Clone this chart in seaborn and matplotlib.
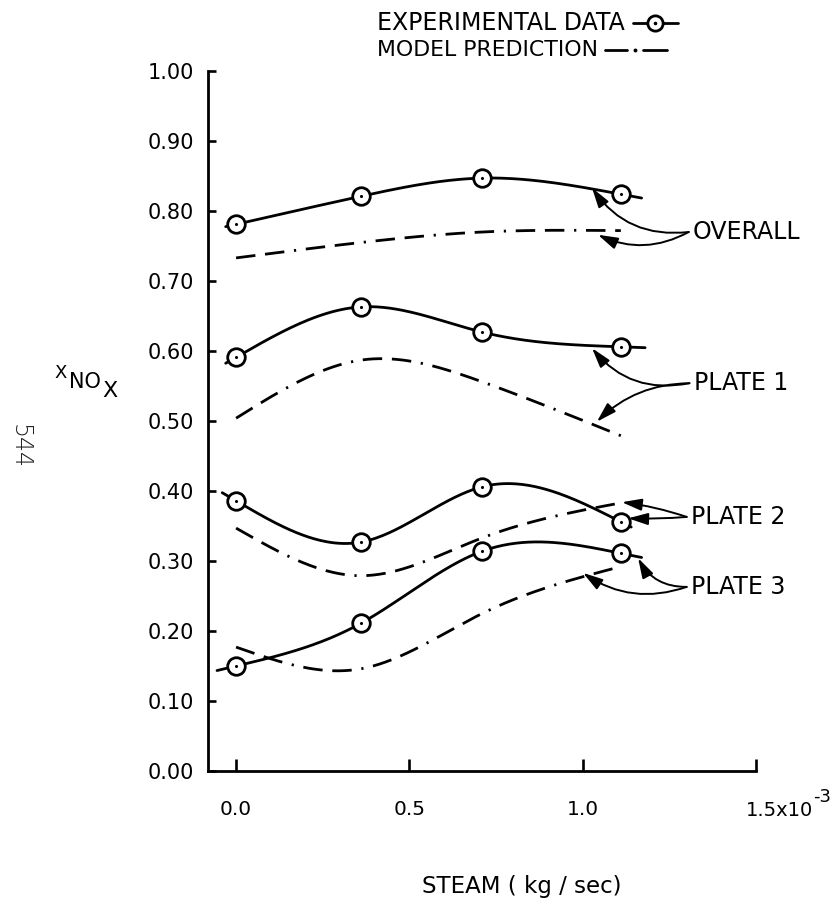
import numpy as np
import matplotlib
matplotlib.use("Agg")
import matplotlib.pyplot as plt
from matplotlib.lines import Line2D
import seaborn as sns

# Steam flow (x 1e-3 kg/sec) at which each series was measured / predicted
steam = [0.0, 0.36, 0.71, 1.11]

# Fractional NOx conversion, experimental
exp_overall = [0.781, 0.821, 0.847, 0.824]
exp_plate1 = [0.591, 0.663, 0.627, 0.606]
exp_plate2 = [0.386, 0.327, 0.406, 0.356]
exp_plate3 = [0.150, 0.211, 0.314, 0.311]

# Fractional NOx conversion, model prediction
mod_overall = [0.733, 0.755, 0.770, 0.772]
mod_plate1 = [0.504, 0.587, 0.556, 0.479]
mod_plate2 = [0.347, 0.279, 0.333, 0.383]
mod_plate3 = [0.177, 0.146, 0.225, 0.292]

# Hand-drawn fits run a little past the first and last measurement
fit_start = [-0.03, -0.03, -0.04, -0.055]
fit_end = [1.17, 1.18, 1.14, 1.17]

series_names = ["OVERALL", "PLATE 1", "PLATE 2", "PLATE 3"]
x_ticks = [0.0, 0.5, 1.0, 1.5]
x_tick_labels = ["0.0", "0.5", "1.0", ""]
y_ticks = [0.0, 0.1, 0.2, 0.3, 0.4, 0.5, 0.6, 0.7, 0.8, 0.9, 1.0]
y_tick_labels = ["0.00", "0.10", "0.20", "0.30", "0.40", "0.50",
                 "0.60", "0.70", "0.80", "0.90", "1.00"]


def natural_spline(x, y, xs):
    """Natural cubic spline through (x, y), evaluated at xs."""
    x = np.asarray(x, float)
    y = np.asarray(y, float)
    xs = np.asarray(xs, float)
    n = len(x)
    h = np.diff(x)
    A = np.zeros((n, n))
    r = np.zeros(n)
    A[0, 0] = A[-1, -1] = 1.0
    for i in range(1, n - 1):
        A[i, i - 1] = h[i - 1]
        A[i, i] = 2 * (h[i - 1] + h[i])
        A[i, i + 1] = h[i]
        r[i] = 3 * ((y[i + 1] - y[i]) / h[i] - (y[i] - y[i - 1]) / h[i - 1])
    c = np.linalg.solve(A, r)
    b = (y[1:] - y[:-1]) / h - h * (2 * c[:-1] + c[1:]) / 3
    d = (c[1:] - c[:-1]) / (3 * h)
    idx = np.clip(np.searchsorted(x, xs) - 1, 0, n - 2)
    t = xs - x[idx]
    return y[idx] + b[idx] * t + c[idx] * t ** 2 + d[idx] * t ** 3


sns.set_theme(style="white")
plt.rcParams["font.family"] = ["DejaVu Sans"]
plt.rcParams["text.color"] = "black"
plt.rcParams["axes.labelcolor"] = "black"
plt.rcParams["xtick.color"] = "black"
plt.rcParams["ytick.color"] = "black"

W, H = 837, 900
fig = plt.figure(figsize=(W / 100, H / 100), dpi=100)
ax = fig.add_axes([208 / W, 1 - 771 / H, (756 - 208) / W, 700 / H])

LW = 2.0
DASH = (7, 3.5, 7, 3.5, 0.8, 3.5)

exp_all = [exp_overall, exp_plate1, exp_plate2, exp_plate3]
mod_all = [mod_overall, mod_plate1, mod_plate2, mod_plate3]

for ys, x0, x1 in zip(exp_all, fit_start, fit_end):
    xs = np.linspace(x0, x1, 200)
    sns.lineplot(x=xs, y=natural_spline(steam, ys, xs), ax=ax,
                 color="black", lw=LW, sort=False, estimator=None,
                 clip_on=False, zorder=2)

for ys in mod_all:
    xs = np.linspace(steam[0], steam[-1], 200)
    sns.lineplot(x=xs, y=natural_spline(steam, ys, xs), ax=ax,
                 color="black", lw=LW, sort=False, estimator=None,
                 clip_on=False, zorder=2)
    ax.lines[-1].set_dashes(DASH)

for ys in exp_all:
    sns.scatterplot(x=steam, y=ys, ax=ax, s=160, marker="o",
                    facecolor="white", edgecolor="black", linewidth=2.0,
                    zorder=4, clip_on=False)
    sns.scatterplot(x=steam, y=ys, ax=ax, s=5, marker="o",
                    color="black", linewidth=0, zorder=5, clip_on=False)

ax.set_xlim(-0.081, 1.5)
ax.set_ylim(0.0, 1.0)
ax.set_xticks(x_ticks)
ax.set_xticklabels(x_tick_labels, fontsize=14.5, color="black")
ax.set_yticks(y_ticks)
ax.set_yticklabels(y_tick_labels, fontsize=15, color="black")
ax.tick_params(axis="y", direction="in", length=6, width=1.9, pad=10,
               left=True, colors="black")
ax.tick_params(axis="x", direction="in", length=9, width=1.9, pad=21,
               bottom=True, colors="black")
for side in ("top", "right"):
    ax.spines[side].set_visible(False)
for side in ("left", "bottom"):
    ax.spines[side].set_color("black")
    ax.spines[side].set_linewidth(2.0)
ax.grid(False)
ax.set_xlabel("")
ax.set_ylabel("")

# last tick label carries the 1e-3 scale factor
ax.annotate("1.5x10", xy=(1.5, 0), xycoords=("data", "axes fraction"),
            xytext=(-10, -39), textcoords="offset pixels",
            ha="left", va="center", fontsize=14, color="black")
ax.annotate("-3", xy=(1.5, 0), xycoords=("data", "axes fraction"),
            xytext=(57, -26), textcoords="offset pixels",
            ha="left", va="center", fontsize=13, color="black")

# curve labels with arrows pointing at the measured and predicted curves
label_pos = [(1.318, 0.770), (1.320, 0.554), (1.312, 0.363), (1.312, 0.263)]
arrow_targets = [
    [((1.027, 0.833), -0.3), ((1.044, 0.766), -0.25)],
    [((1.027, 0.604), -0.3), ((1.041, 0.499), 0.2)],
    [((1.113, 0.384), 0.05), ((1.131, 0.361), -0.03)],
    [((1.160, 0.304), -0.3), ((1.001, 0.283), -0.25)],
]
for name, (lx, ly), targets in zip(series_names, label_pos, arrow_targets):
    ax.text(lx, ly, name, fontsize=17, ha="left", va="center",
            color="black", clip_on=False)
    for (tx, ty), rad in targets:
        ax.annotate("", xy=(tx, ty), xytext=(lx - 0.012, ly),
                    arrowprops=dict(arrowstyle="-|>,head_length=1.0,head_width=0.3",
                                    color="black", lw=1.4, shrinkA=0, shrinkB=0,
                                    connectionstyle=f"arc3,rad={rad}"),
                    annotation_clip=False)

# axis titles
fig.text(522 / W, 1 - 886 / H, "STEAM ( kg / sec)", fontsize=16.5,
         ha="center", va="center", color="black")
fig.text(61 / W, 1 - 373 / H, "X", fontsize=13, ha="center", va="center",
         color="black")
fig.text(85 / W, 1 - 382 / H, "NO", fontsize=15, ha="center", va="center",
         color="black")
fig.text(110 / W, 1 - 391 / H, "X", fontsize=16, ha="center", va="center",
         color="black")
fig.text(20 / W, 1 - 446 / H, "544", fontsize=17, rotation=-90,
         ha="center", va="center", color="#222222", fontweight="light")

# key at the top
fig.text(377 / W, 1 - 23 / H, "EXPERIMENTAL DATA", fontsize=17,
         ha="left", va="center", color="black")
fig.text(377 / W, 1 - 50 / H, "MODEL PREDICTION", fontsize=15.8,
         ha="left", va="center", color="black")
fig.add_artist(Line2D([633 / W, 678 / W], [1 - 23 / H, 1 - 23 / H],
                      transform=fig.transFigure, color="black", lw=2.0))
fig.add_artist(Line2D([655 / W], [1 - 23 / H], transform=fig.transFigure,
                      marker="o", markersize=11, markerfacecolor="white",
                      markeredgecolor="black", markeredgewidth=2.0, lw=0))
fig.add_artist(Line2D([655 / W], [1 - 23 / H], transform=fig.transFigure,
                      marker="o", markersize=1.6, color="black", lw=0))
fig.add_artist(Line2D([605 / W, 627 / W], [1 - 50 / H, 1 - 50 / H],
                      transform=fig.transFigure, color="black", lw=2.0))
fig.add_artist(Line2D([635 / W], [1 - 50 / H], transform=fig.transFigure,
                      marker="o", markersize=1.8, color="black", lw=0))
fig.add_artist(Line2D([643 / W, 667 / W], [1 - 50 / H, 1 - 50 / H],
                      transform=fig.transFigure, color="black", lw=2.0))

fig.savefig("out.png", dpi=100, facecolor="white")
